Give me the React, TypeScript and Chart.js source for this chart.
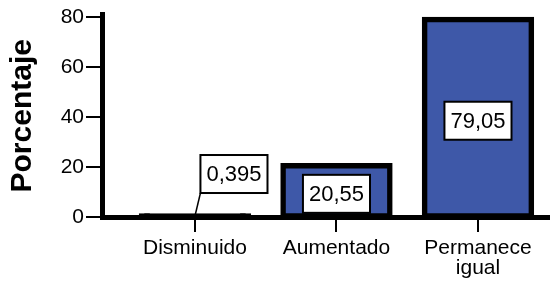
import { useEffect, useRef } from 'react';
import { Chart, registerables } from 'chart.js';

Chart.register(...registerables);

const categories: (string | string[])[] = ['Disminuido', 'Aumentado', ['Permanece', 'igual']];
const percentages = [0.395, 20.55, 79.05];
const yTicks = [0, 20, 40, 60, 80];

const FONT = "'Liberation Sans', Arial, Helvetica, sans-serif";
const BLUE = '#3E58A8';

const boxLabels = {
  id: 'boxLabels',
  afterDatasetsDraw(chart: any) {
    const ctx = chart.ctx as CanvasRenderingContext2D;
    const meta = chart.getDatasetMeta(0);
    ctx.save();
    ctx.font = `22px ${FONT}`;
    ctx.textAlign = 'center';
    ctx.textBaseline = 'middle';
    meta.data.forEach((bar: any, i: number) => {
      const { x, y, base } = bar.getProps(['x', 'y', 'base'], true);
      const text = String(percentages[i]).replace('.', ',');
      const w = ctx.measureText(text).width + 12;
      const h = 38;
      let cx: number;
      let cy: number;
      if (base - y > h + 12) {
        cx = x;
        cy = (y + base) / 2 + 3;
      } else {
        cx = x + 39;
        cy = y - 42;
        ctx.beginPath();
        ctx.moveTo(x, y);
        ctx.lineTo(cx - w / 2, cy + h / 2);
        ctx.lineWidth = 1.5;
        ctx.strokeStyle = '#000';
        ctx.stroke();
      }
      ctx.fillStyle = '#fff';
      ctx.fillRect(cx - w / 2, cy - h / 2, w, h);
      ctx.lineWidth = 2;
      ctx.strokeStyle = '#000';
      ctx.strokeRect(cx - w / 2, cy - h / 2, w, h);
      ctx.fillStyle = '#000';
      ctx.fillText(text, cx, cy + 1);
    });
    ctx.restore();
  },
};

export default function App() {
  const ref = useRef<HTMLCanvasElement | null>(null);

  useEffect(() => {
    if (!ref.current) return;
    Chart.defaults.font.family = FONT;
    Chart.defaults.color = '#000';
    const chart = new Chart(ref.current, {
      type: 'bar',
      data: {
        datasets: [
          {
            data: percentages.map((v, i) => ({ x: i, y: v })),
            backgroundColor: (c: any) => {
              const ys = c.chart.scales.y;
              const v = c.raw ? c.raw.y : 0;
              if (!ys) return BLUE;
              const px = ys.getPixelForValue(0) - ys.getPixelForValue(v);
              return px < 6 ? '#000' : BLUE;
            },
            borderColor: '#000',
            borderWidth: 5.5,
            borderSkipped: false,
            inflateAmount: 2.75,
            categoryPercentage: 1,
            barPercentage: 0.755,
          } as any,
        ],
      },
      options: {
        animation: false,
        responsive: false,
        devicePixelRatio: 1,
        layout: { padding: { top: 14.5, right: 0, bottom: 0, left: 0 } },
        plugins: { legend: { display: false }, tooltip: { enabled: false } },
        scales: {
          x: {
            type: 'linear',
            offset: false,
            min: -0.657,
            max: 2.509,
            afterBuildTicks: (s: any) => {
              s.ticks = categories.map((_, i) => ({ value: i }));
            },
            afterFit: (s: any) => {
              s.height = 67;
            },
            grid: {
              drawOnChartArea: false,
              drawTicks: true,
              tickLength: 15,
              color: '#000',
              lineWidth: 2,
              offset: false,
            },
            border: { display: true, width: 5, color: '#000' },
            ticks: {
              callback: (v: any) => (categories[v as number] ?? '') as any,
              font: { size: 21, family: FONT, lineHeight: 0.95 },
              color: '#000',
              padding: 6,
              maxRotation: 0,
              autoSkip: false,
            },
          },
          y: {
            min: 0,
            max: 81,
            afterBuildTicks: (s: any) => {
              s.ticks = yTicks.map((v) => ({ value: v }));
            },
            afterFit: (s: any) => {
              s.width = 102;
            },
            grid: {
              drawOnChartArea: false,
              drawTicks: true,
              tickLength: 16,
              color: '#000',
              lineWidth: 2,
            },
            border: { display: true, width: 5, color: '#000' },
            ticks: {
              font: { size: 21, family: FONT },
              color: '#000',
              padding: 2,
            },
            title: {
              display: true,
              text: 'Porcentaje',
              font: { size: 30, weight: 'bold', family: FONT },
              color: '#000',
              padding: { top: 4.5, bottom: 0 },
            },
          },
        },
      } as any,
      plugins: [boxLabels],
    });
    return () => chart.destroy();
  }, []);

  return (
    <div style={{ position: 'fixed', left: 0, top: 0, width: 550, height: 284, background: '#fff' }}>
      <canvas ref={ref} width={550} height={284} style={{ width: 550, height: 284, display: 'block' }} />
    </div>
  );
}
